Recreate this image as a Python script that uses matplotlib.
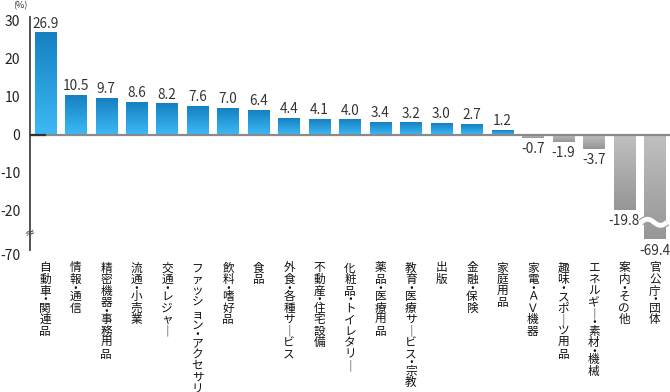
import numpy as np
import matplotlib
matplotlib.use("Agg")
import matplotlib.pyplot as plt
from matplotlib.transforms import (Bbox, TransformedBbox, BboxTransformTo,
                                   ScaledTranslation, blended_transform_factory)
from matplotlib.colors import to_rgb
import matplotlib.patheffects as pe

plt.rcParams['font.family'] = ['Noto Sans CJK JP', 'DejaVu Sans']

categories = ["自動車・関連品", "情報・通信", "精密機器・事務用品", "流通・小売業",
              "交通・レジャー", "ファッション・アクセサリー", "飲料・嗜好品", "食品",
              "外食・各種サービス", "不動産・住宅設備", "化粧品・トイレタリー",
              "薬品・医療用品", "教育・医療サービス・宗教", "出版", "金融・保険",
              "家庭用品", "家電・ＡＶ機器", "趣味・スポーツ用品",
              "エネルギー・素材・機械", "案内・その他", "官公庁・団体"]
values = [26.9, 10.5, 9.7, 8.6, 8.2, 7.6, 7.0, 6.4, 4.4, 4.1, 4.0, 3.4, 3.2,
          3.0, 2.7, 1.2, -0.7, -1.9, -3.7, -19.8, -69.4]
yticks = [30, 20, 10, 0, -10, -20, -70]
unit_label = "(%)"

# broken axis: identity above BRK, compressed below
BRK = -25.0
K = 0.0563


def fwd(v):
    v = np.asarray(v, dtype=float)
    return np.where(v >= BRK, v, BRK + (v - BRK) * K)


def inv(d):
    d = np.asarray(d, dtype=float)
    return np.where(d >= BRK, d, BRK + (d - BRK) / K)


fig = plt.figure(figsize=(6.7, 3.92), dpi=100)
ax = fig.add_axes([30 / 670, 1 - 250 / 392, 640 / 670, 233 / 392])
ax.set_yscale('function', functions=(fwd, inv))

x = np.arange(len(values))
bars = ax.bar(x, values, width=0.7, color="#2a9fdc", zorder=2)
ax.set_xlim(-0.5, len(values) - 0.5)
ax.set_ylim(-119, 31)

# gradient fill for each bar
blue_top, blue_bot = to_rgb("#1580c2"), to_rgb("#3dbaf5")
gray_top, gray_bot = to_rgb("#c0c0c0"), to_rgb("#969696")
N = 64
t = np.linspace(0, 1, N)[:, None, None]
for b, v in zip(bars, values):
    top, bot = (blue_top, blue_bot) if v >= 0 else (gray_top, gray_bot)
    arr = (1 - t) * np.array(top)[None, None, :] + t * np.array(bot)[None, None, :]
    bb = Bbox.from_extents(b.get_x(), min(0, v), b.get_x() + b.get_width(), max(0, v))
    tr = BboxTransformTo(TransformedBbox(bb, ax.transData))
    ax.imshow(arr, extent=(0, 1, 0, 1), transform=tr, aspect='auto',
              interpolation='bilinear', zorder=2.2)
ax.set_xlim(-0.5, len(values) - 0.5)
ax.set_ylim(-119, 31)

# zero line
ax.axhline(0, color="#8a8a8a", lw=1.6, zorder=3)
ax.axhline(0, xmax=0.024, color="#333333", lw=1.6, zorder=3.1)

# value labels
for xi, v in zip(x, values):
    if v >= 0:
        ax.annotate(f"{v:.1f}", (xi, v), xytext=(0, 1.5), textcoords="offset points",
                    ha="center", va="bottom", fontsize=9.8, color="#333333")
    else:
        ax.annotate(f"{v:.1f}", (xi, v), xytext=(0, -3), textcoords="offset points",
                    ha="center", va="top", fontsize=9.8, color="#333333")

# wavy break on the truncated bar
xi = x[-1]
wx = np.linspace(xi - 0.45, xi + 0.4, 60)
wy = -23.0 + 0.8 * np.sin((wx - (xi - 0.45)) / 0.85 * 2 * np.pi)
ax.plot(wx, wy, color="white", lw=3.5, zorder=4, solid_capstyle="butt",
        path_effects=[pe.Stroke(linewidth=5.2, foreground="#9a9a9a"), pe.Normal()])

# axis break mark on y axis
ax.text(0, -39, "≈", transform=blended_transform_factory(ax.transAxes, ax.transData),
        ha="center", va="center", fontsize=9, color="#444444", rotation=20,
        family="DejaVu Sans", clip_on=False, zorder=5)

# spines / ticks
for s in ["top", "right", "bottom"]:
    ax.spines[s].set_visible(False)
ax.spines["left"].set_color("#444444")
ax.spines["left"].set_linewidth(1.3)
ax.set_yticks(yticks)
ax.set_yticklabels([str(v) for v in yticks])
ax.tick_params(axis="y", length=0, pad=7, labelsize=10, labelcolor="#222222")
ax.set_xticks([])
for lab, val in zip(ax.get_yticklabels(), yticks):
    if val == -70:
        lab.set_transform(lab.get_transform() +
                          ScaledTranslation(0, -11 / 72, fig.dpi_scale_trans))

# vertical (tategaki) category labels, one glyph per text
vert_map = {"ー": "｜"}
trb = blended_transform_factory(ax.transData, ax.transAxes)
for xi, cat in zip(x, categories):
    off = -13.0
    for ch in cat:
        adv = 4.0 if ch == "・" else 8.3
        ax.annotate(vert_map.get(ch, ch), (xi, 0), xycoords=trb,
                    xytext=(0, off - adv / 2 + 4.2), textcoords="offset points",
                    ha="center", va="center", fontsize=8.4, color="#111111",
                    annotation_clip=False)
        off -= adv

fig.text(20 / 670, 1 - 6 / 392, unit_label, ha="center", va="center",
         fontsize=6.5, color="#333333")

fig.savefig("out.png", dpi=100)
